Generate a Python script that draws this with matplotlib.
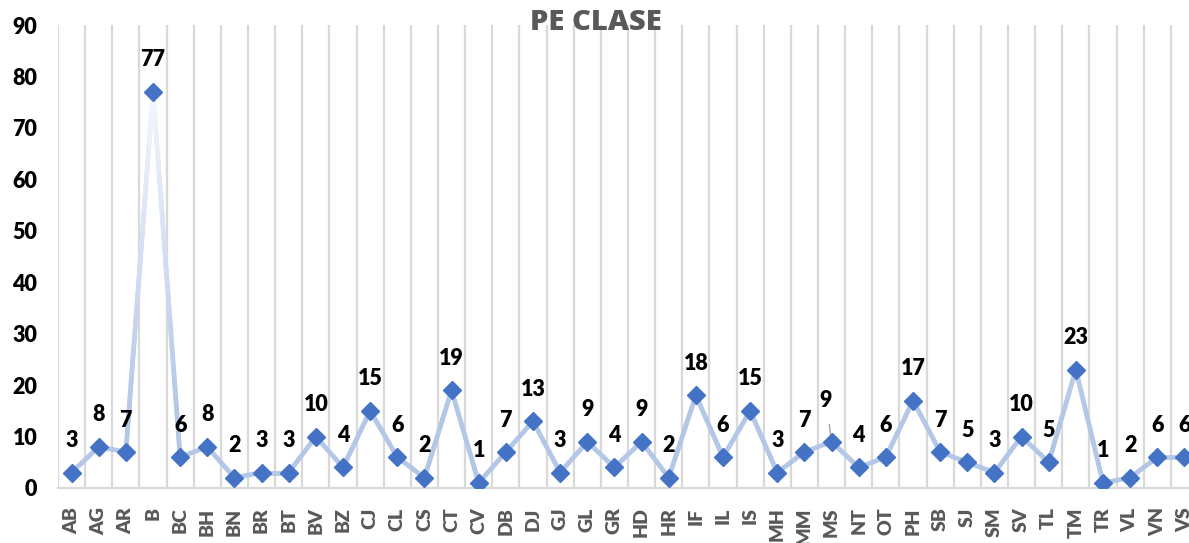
import numpy as np
import matplotlib.pyplot as plt
from matplotlib.collections import LineCollection
from matplotlib.colors import to_rgb

plt.rcParams['font.family'] = ['Lato', 'DejaVu Sans']

# clase / numar de elevi
categories = ['AB', 'AG', 'AR', 'B', 'BC', 'BH', 'BN', 'BR', 'BT', 'BV', 'BZ',
              'CJ', 'CL', 'CS', 'CT', 'CV', 'DB', 'DJ', 'GJ', 'GL', 'GR', 'HD',
              'HR', 'IF', 'IL', 'IS', 'MH', 'MM', 'MS', 'NT', 'OT', 'PH', 'SB',
              'SJ', 'SM', 'SV', 'TL', 'TM', 'TR', 'VL', 'VN', 'VS']
values = [3, 8, 7, 77, 6, 8, 2, 3, 3, 10, 4,
          15, 6, 2, 19, 1, 7, 13, 3, 9, 4, 9,
          2, 18, 6, 15, 3, 7, 9, 4, 6, 17, 7,
          5, 3, 10, 5, 23, 1, 2, 6, 6]
y_ticks = [0, 10, 20, 30, 40, 50, 60, 70, 80, 90]

line_col = to_rgb('#B4C7E7')
top_col = to_rgb('#F2F6FC')
marker_col = '#4472C4'
grid_col = '#D9D9D9'
text_gray = '#595959'

fig = plt.figure(figsize=(11.89, 5.43), dpi=100)
# plot area runs a bit past the right edge of the figure
ax = fig.add_axes([58 / 1189, 55 / 543, 1140 / 1189, 463 / 543])

x = np.arange(len(categories))
y = np.array(values, dtype=float)

# line with a vertical fade to white towards the top
segs, cols = [], []
for i in range(len(x) - 1):
    n = max(2, int(abs(y[i + 1] - y[i]) * 2))
    xs = np.linspace(x[i], x[i + 1], n + 1)
    ys = np.linspace(y[i], y[i + 1], n + 1)
    for j in range(n):
        segs.append([(xs[j], ys[j]), (xs[j + 1], ys[j + 1])])
        t = np.clip(((ys[j] + ys[j + 1]) / 2 - 15) / 60, 0, 1)
        cols.append(tuple(np.array(line_col) * (1 - t) + np.array(top_col) * t))
lc = LineCollection(segs, colors=cols, linewidths=3.4, capstyle='round',
                    joinstyle='round', zorder=3)
ax.add_collection(lc)

ax.plot(x, y, linestyle='none', marker='D', markersize=9.5,
        color=marker_col, zorder=4)

# data labels
lab_font = dict(fontsize=15.5, fontweight='heavy', color='black')
for xi, yi, v in zip(x, y, values):
    if categories[xi] == 'MS':
        ax.annotate(str(v), xy=(xi, yi), xytext=(-4, 30),
                    textcoords='offset points', ha='center', va='center',
                    arrowprops=dict(arrowstyle='-', color='#A6A6A6', lw=1,
                                    shrinkA=8, shrinkB=5), **lab_font)
    else:
        ax.annotate(str(v), xy=(xi, yi), xytext=(0, 23),
                    textcoords='offset points', ha='center', va='center',
                    **lab_font)

ax.set_xlim(-0.5, len(categories) - 0.5)
ax.set_ylim(0, 90)
ax.set_yticks(y_ticks)
ax.set_yticklabels([str(t) for t in y_ticks], fontsize=15.5, fontweight='heavy',
                   color='black')
ax.set_xticks(x)
ax.set_xticklabels(categories, rotation=90, fontsize=14, fontweight='heavy',
                   color=text_gray, va='top')
ax.set_xticks(np.arange(-0.5, len(categories) + 0.5, 1), minor=True)
ax.tick_params(axis='both', which='both', length=0)
ax.tick_params(axis='y', pad=15)
ax.tick_params(axis='x', pad=14)
ax.grid(True, which='minor', axis='x', color=grid_col, linewidth=1.6)
ax.grid(False, which='major')

for s in ['top', 'right', 'left']:
    ax.spines[s].set_visible(False)
ax.spines['bottom'].set_color(grid_col)
ax.spines['bottom'].set_linewidth(1.6)

fig.text(0.501, 0.958, 'PE CLASE', ha='center', va='center', fontsize=21,
         fontweight='heavy', color=text_gray, family=['Open Sans', 'DejaVu Sans'])

fig.savefig('out.png', dpi=100)
